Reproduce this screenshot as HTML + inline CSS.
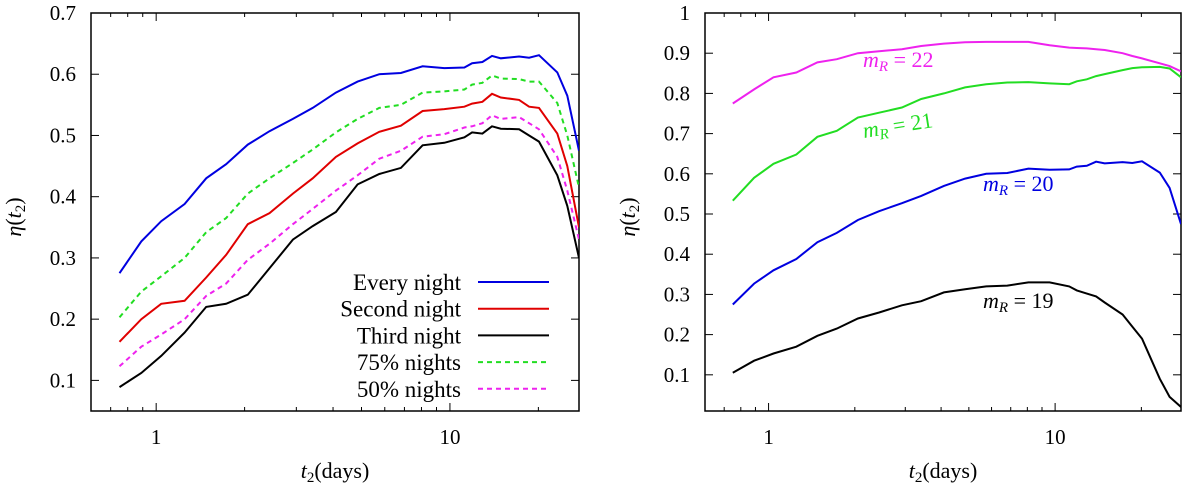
<!DOCTYPE html>
<html><head><meta charset="utf-8"><style>
body{margin:0;background:#fff}
svg text{font-family:"Liberation Serif",serif;fill:#000}
</style></head><body>
<svg id="chart" width="1200" height="491" xmlns="http://www.w3.org/2000/svg"></svg>
<script>
const tDays=[0.75,0.89,1.04,1.25,1.48,1.73,2.05,2.43,2.92,3.41,4.09,4.85,5.75,6.81,8.07,9.57,11.2,11.9,12.9,13.9,14.9,17.2,18.6,20.1,23.2,25.1,27.5];
const everyNight=[0.275,0.327,0.36,0.388,0.43,0.453,0.485,0.507,0.527,0.545,0.57,0.588,0.6,0.602,0.613,0.61,0.611,0.618,0.62,0.63,0.626,0.629,0.627,0.631,0.603,0.565,0.475];
const secondNight=[0.163,0.2,0.225,0.23,0.268,0.305,0.355,0.373,0.405,0.43,0.465,0.487,0.506,0.516,0.54,0.543,0.547,0.552,0.555,0.568,0.562,0.558,0.547,0.545,0.503,0.45,0.35];
const thirdNight=[0.089,0.112,0.14,0.178,0.22,0.225,0.24,0.283,0.33,0.352,0.375,0.42,0.437,0.447,0.484,0.488,0.497,0.505,0.503,0.515,0.511,0.51,0.5,0.49,0.435,0.385,0.3];
const pct75=[0.203,0.245,0.27,0.3,0.342,0.365,0.405,0.43,0.455,0.477,0.505,0.527,0.545,0.55,0.57,0.572,0.575,0.583,0.586,0.598,0.593,0.592,0.588,0.588,0.553,0.5,0.415];
const pct50=[0.123,0.155,0.175,0.2,0.238,0.258,0.297,0.323,0.355,0.38,0.41,0.435,0.462,0.475,0.498,0.502,0.513,0.515,0.52,0.533,0.527,0.53,0.52,0.51,0.465,0.41,0.33];
const mR22=[0.775,0.81,0.84,0.852,0.877,0.885,0.9,0.905,0.91,0.918,0.924,0.927,0.928,0.928,0.928,0.92,0.914,0.913,0.912,0.91,0.908,0.9,0.893,0.887,0.875,0.868,0.855];
const mR21=[0.533,0.59,0.625,0.648,0.692,0.707,0.74,0.752,0.765,0.786,0.8,0.815,0.823,0.827,0.828,0.825,0.823,0.83,0.835,0.843,0.848,0.858,0.863,0.865,0.866,0.862,0.84];
const mR20=everyNight;
const mR19=[0.105,0.135,0.153,0.17,0.197,0.215,0.24,0.255,0.273,0.283,0.305,0.313,0.32,0.322,0.33,0.33,0.32,0.31,0.302,0.295,0.28,0.25,0.22,0.19,0.09,0.045,0.02];
const leftYTicks=["0.1","0.2","0.3","0.4","0.5","0.6","0.7"];
const rightYTicks=["0.1","0.2","0.3","0.4","0.5","0.6","0.7","0.8","0.9","1"];
const xTickLabels=["1","10"];

const NS="http://www.w3.org/2000/svg";
const svg=document.getElementById('chart');
function mk(tag,attrs,parent){const e=document.createElementNS(NS,tag);for(const k in attrs)e.setAttribute(k,attrs[k]);(parent||svg).appendChild(e);return e;}

function panel(name,x0,x1,y0,y1,xmin,xmax,ymin,ymax,yTicks){
  const g=mk('g',{});
  
  
  const sx=v=>x0+(Math.log10(v)-Math.log10(xmin))/(Math.log10(xmax)-Math.log10(xmin))*(x1-x0);
  const sy=v=>y1-(v-ymin)/(ymax-ymin)*(y1-y0);
  const fr=mk('rect',{x:x0,y:y0,width:x1-x0,height:y1-y0,fill:'none',stroke:'#000','stroke-width':1.5},g);
  
  
  yTicks.forEach(s=>{const v=parseFloat(s);const y=sy(v);
    mk('line',{x1:x0,x2:x0+8,y1:y,y2:y,stroke:'#000'},g);
    mk('line',{x1:x1,x2:x1-8,y1:y,y2:y,stroke:'#000'},g);
    const t=mk('text',{x:x0-15,y:y+7,'text-anchor':'end','font-size':21},g);t.textContent=s;
    
    
  });
  for(let d=0;d<3;d++)for(let k=1;k<10;k++){const v=k*Math.pow(10,d-1);if(v<xmin||v>xmax)continue;
    const x=sx(v);const L=(k===1)?8:4;
    mk('line',{x1:x,x2:x,y1:y1,y2:y1-L,stroke:'#000'},g);
    mk('line',{x1:x,x2:x,y1:y0,y2:y0+L,stroke:'#000'},g);}
  xTickLabels.forEach(s=>{const t=mk('text',{x:sx(parseFloat(s)),y:y1+33,'text-anchor':'middle','font-size':21},g);t.textContent=s;
    
    });
  const xt=mk('text',{x:(x0+x1)/2,y:y1+67,'text-anchor':'middle','font-size':22},g);
  xt.innerHTML='<tspan font-style="italic">t</tspan><tspan font-size="15" dy="4">2</tspan><tspan dy="-4">(days)</tspan>';
  
  
  const yt=mk('text',{x:0,y:0,'text-anchor':'middle','font-size':22,transform:`translate(${x0-70},${(y0+y1)/2+5}) rotate(-90)`},g);
  yt.innerHTML='<tspan font-style="italic">η</tspan>(<tspan font-style="italic">t</tspan><tspan font-size="15" dy="4">2</tspan><tspan dy="-4">)</tspan>';
  
  
  return {g,sx,sy,x0,x1,y0,y1};
}
function series(p,vals,color,dash,name){
  const d=vals.map((v,i)=>(i?'L':'M')+p.sx(tDays[i]).toFixed(1)+','+p.sy(v).toFixed(1)).join(' ');
  const path=mk('path',{d,fill:'none',stroke:color,'stroke-width':2,'stroke-dasharray':dash||'none','clip-path':'url(#'+p.clip+')'},p.g);
  
  
}
const defs=mk('defs',{});
const L=panel('left-panel',91,579,13,411,0.6,27.5,0.05,0.7,leftYTicks);
const R=panel('right-panel',705,1181,13,411,0.6,27.5,0.01,1.0,rightYTicks);
[[L,'clipL'],[R,'clipR']].forEach(([p,id])=>{const c=mk('clipPath',{id},defs);mk('rect',{x:p.x0,y:p.y0,width:p.x1-p.x0,height:p.y1-p.y0},c);p.clip=id;});

series(L,everyNight,'#0000e0',null,'line-every-night');
series(L,secondNight,'#e00000',null,'line-second-night');
series(L,thirdNight,'#000',null,'line-third-night');
series(L,pct75,'#22dd22','5,4','line-75-nights');
series(L,pct50,'#ee22ee','5,4','line-50-nights');

const legNames=['Every night','Second night','Third night','75% nights','50% nights'];
const legColors=['#0000e0','#e00000','#000','#22dd22','#ee22ee'];
legNames.forEach((n,i)=>{const y=290+i*26.7;
  const e=mk('g',{},L.g);
  
  
  const t=mk('text',{x:461,y:y,'text-anchor':'end','font-size':23},e);t.textContent=n;
  mk('line',{x1:478,x2:549,y1:y-8,y2:y-8,stroke:legColors[i],'stroke-width':2,'stroke-dasharray':i>2?'5,4':'none'},e);
});

series(R,mR22,'#ee22ee',null,'line-mr-22');
series(R,mR21,'#22dd22',null,'line-mr-21');
series(R,mR20,'#0000e0',null,'line-mr-20');
series(R,mR19,'#000',null,'line-mr-19');
function lab(x,y,c,num,rot,name){
  const t=mk('text',{x,y,'font-size':22,fill:c,transform:rot?`rotate(${rot},${x},${y})`:''},R.g);
  t.innerHTML='<tspan font-style="italic" fill="'+c+'">m</tspan><tspan font-style="italic" font-size="15" dy="4" fill="'+c+'">R</tspan><tspan dy="-4" fill="'+c+'"> = '+num+'</tspan>';
  
  
}
lab(863,67,'#ee22ee','22',0,'label-mr-22');
lab(864,138,'#22dd22','21',-9,'label-mr-21');
lab(983,191,'#0000e0','20',0,'label-mr-20');
lab(983,308,'#000','19',0,'label-mr-19');
</script>
</body></html>
